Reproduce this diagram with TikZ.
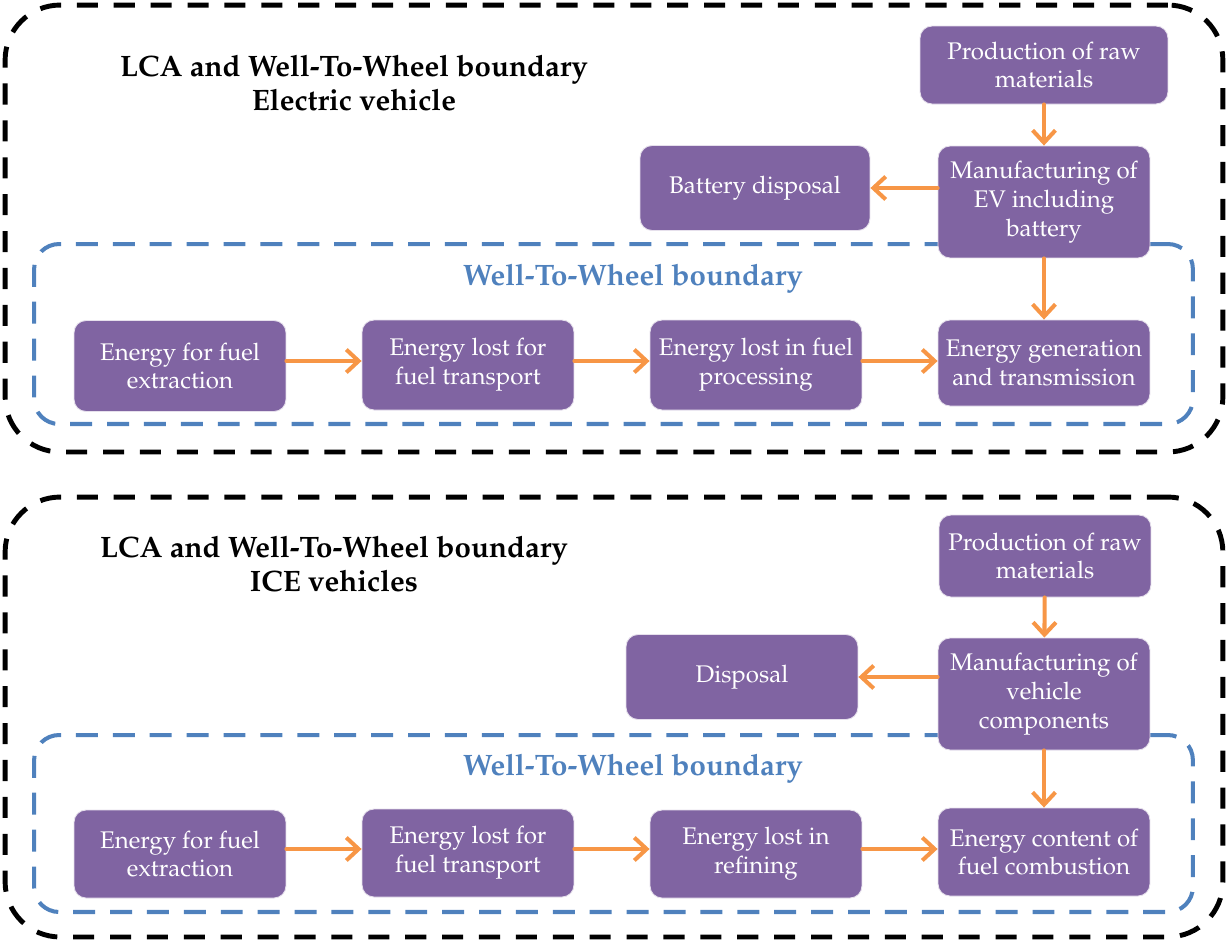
\documentclass[tikz,border=0pt]{standalone}
\usepackage[T1]{fontenc}
\usepackage{mathpazo}
\usetikzlibrary{
  arrows.meta,
  calc,
  positioning}
\definecolor{boxpurple}{HTML}{8064A2}
\definecolor{arroworange}{HTML}{F79646}
\definecolor{wtwblue}{HTML}{4F81BD}

\begin{document}
\begin{tikzpicture}[
  x=0.02cm,
  y=-0.02cm,
  stage/.style={
    rectangle,
    rounded corners=2.4mm,
    fill=boxpurple,
    draw=white!80!boxpurple,
    line width=0.5pt,
    text=white,
    align=center,
    inner sep=0pt,
    font=\fontsize{13.7}{16.4}\selectfont},
  flow/.style={
    draw=arroworange,
    line width=2.3pt,
    line cap=round,
    -{Straight Barb[length=7pt,width=13pt]}},
  lcaframe/.style={
    draw=black,
    line width=2.8pt,
    dash pattern=on 12pt off 9pt,
    rounded corners=1.1cm},
  wtwframe/.style={
    draw=wtwblue,
    line width=2.3pt,
    dash pattern=on 12.5pt off 8.5pt,
    rounded corners=0.5cm},
  paneltitle/.style={font=\fontsize{16.8}{19.3}\selectfont\bfseries, align=center},
  wtwtitle/.style={font=\fontsize{16.8}{19}\selectfont\bfseries, text=wtwblue}
]%
  \useasboundingbox (0,0) rectangle (1228,941);

  % Frames
  \node[lcaframe, minimum width=24.36cm, minimum height=8.94cm] (lca1) at (614,228.5) {};
  \node[wtwframe, minimum width=23.18cm, minimum height=3.6cm] (wtw1) at (613.5,334) {};
  \node[lcaframe, minimum width=24.36cm, minimum height=8.8cm] (lca2) at (614,717) {};
  \node[wtwframe, minimum width=23.18cm, minimum height=3.54cm] (wtw2) at (613.5,823.5) {};

  % Titles
  \node[paneltitle] (title1) at (354,83) {LCA and Well-To-Wheel boundary\\Electric vehicle};
  \node[wtwtitle] (wtwlabel1) at (633,279) {Well-To-Wheel boundary};
  \node[paneltitle] (title2) at (334,564) {LCA and Well-To-Wheel boundary\\ICE vehicles};
  \node[wtwtitle] (wtwlabel2) at (633,769) {Well-To-Wheel boundary};

  % Electric vehicle: LCA part
  \node[stage, minimum width=4.96cm, minimum height=1.56cm] (raw1) at (1044,65)
    {Production of raw\\materials};
  \node[stage, minimum width=4.24cm, minimum height=2.24cm] (manuf1) at (1044,202)
    {Manufacturing of\\EV including\\battery};
  \node[stage, minimum width=4.6cm, minimum height=1.7cm] (disp1) at (755,188)
    {Battery disposal};

  % Electric vehicle: well-to-wheel chain
  \node[stage, minimum width=4.24cm, minimum height=1.82cm] (fuel1) at (180,366)
    {Energy for fuel\\extraction};
  \node[stage, minimum width=4.24cm, minimum height=1.8cm] (trans1) at (468,365)
    {Energy lost for\\fuel transport};
  \node[stage, minimum width=4.24cm, minimum height=1.8cm] (proc1) at (756,365)
    {Energy lost in fuel\\processing};
  \node[stage, minimum width=4.24cm, minimum height=1.72cm] (gen1) at (1044,363)
    {Energy generation\\and transmission};

  \draw[flow] (raw1) -- (manuf1);
  \draw[flow] (manuf1.west |- disp1.east) -- (disp1.east);
  \draw[flow] (manuf1) -- (gen1);
  \draw[flow] (fuel1.east |- 0,361) -- (trans1.west |- 0,361);
  \draw[flow] (trans1.east |- 0,361) -- (proc1.west |- 0,361);
  \draw[flow] (proc1.east |- 0,361) -- (gen1.west |- 0,361);

  % ICE vehicles: LCA part
  \node[stage, minimum width=4.24cm, minimum height=1.64cm] (raw2) at (1045,556)
    {Production of raw\\materials};
  \node[stage, minimum width=4.24cm, minimum height=2.24cm] (manuf2) at (1044,694)
    {Manufacturing of\\vehicle\\components};
  \node[stage, minimum width=4.64cm, minimum height=1.7cm] (disp2) at (742,677)
    {Disposal};

  % ICE vehicles: well-to-wheel chain
  \node[stage, minimum width=4.24cm, minimum height=1.76cm] (fuel2) at (180,854)
    {Energy for fuel\\extraction};
  \node[stage, minimum width=4.24cm, minimum height=1.76cm] (trans2) at (468,853)
    {Energy lost for\\fuel transport};
  \node[stage, minimum width=4.24cm, minimum height=1.76cm] (refin2) at (756,854)
    {Energy lost in\\refining};
  \node[stage, minimum width=4.24cm, minimum height=1.76cm] (comb2) at (1044,852)
    {Energy content of\\fuel combustion};

  \draw[flow] (raw2) -- (manuf2);
  \draw[flow] (manuf2.west |- disp2.east) -- (disp2.east);
  \draw[flow] (manuf2) -- (comb2);
  \draw[flow] (fuel2.east |- 0,849) -- (trans2.west |- 0,849);
  \draw[flow] (trans2.east |- 0,849) -- (refin2.west |- 0,849);
  \draw[flow] (refin2.east |- 0,849) -- (comb2.west |- 0,849);

\end{tikzpicture}
\end{document}
